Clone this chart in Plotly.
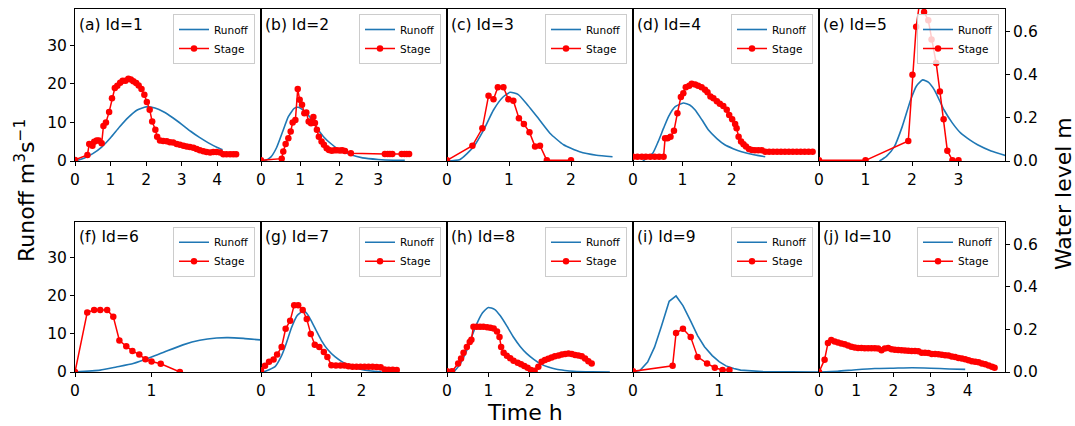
import plotly.graph_objects as go

# ---------------- event data: time (h), runoff (m3/s), stage (m) ----------------
# Id=1
t_run_1 = [0, 0.25, 0.5, 0.75, 1.0, 1.25, 1.5, 1.75, 2.0, 2.25, 2.5, 2.75, 3.0, 3.25, 3.5, 3.75, 4.0, 4.15]
q_run_1 = [0, 0.7, 1.9, 3.6, 6.0, 8.8, 11.3, 13.2, 14.0, 13.7, 12.7, 11.2, 9.5, 7.7, 6.1, 4.7, 3.5, 2.9]
t_stg_1 = [0, 0.35, 0.40, 0.49, 0.54, 0.61, 0.67, 0.75, 0.80, 0.87, 0.96, 1.04, 1.12, 1.19, 1.27, 1.34,
           1.42, 1.50, 1.57, 1.64, 1.72, 1.79, 1.87, 1.95, 2.02, 2.10, 2.17, 2.26, 2.31, 2.39, 2.48, 2.58,
           2.67, 2.76, 2.86, 2.95, 3.05, 3.14, 3.23, 3.33, 3.42, 3.51, 3.61, 3.70, 3.80, 3.89, 3.98, 4.08,
           4.17, 4.26, 4.36, 4.45, 4.53]
h_stg_1 = [0.005, 0.028, 0.079, 0.071, 0.089, 0.095, 0.095, 0.082, 0.163, 0.179, 0.228, 0.292, 0.339,
           0.350, 0.364, 0.373, 0.373, 0.382, 0.378, 0.370, 0.362, 0.351, 0.334, 0.308, 0.274, 0.238,
           0.183, 0.145, 0.113, 0.095, 0.093, 0.092, 0.087, 0.086, 0.079, 0.076, 0.071, 0.067, 0.065,
           0.061, 0.056, 0.050, 0.045, 0.042, 0.040, 0.042, 0.042, 0.039, 0.031, 0.031, 0.031, 0.031, 0.031]

# Id=2
t_run_2 = [0, 0.1, 0.25, 0.4, 0.55, 0.7, 0.85, 0.95, 1.1, 1.25, 1.4, 1.6, 1.8, 2.0, 2.3, 2.6, 3.0, 3.4, 3.68]
q_run_2 = [0, 0.1, 1.0, 3.5, 7.5, 11.5, 13.6, 13.9, 13.0, 11.4, 9.0, 6.3, 4.4, 2.9, 1.6, 0.8, 0.4, 0.2, 0.15]
t_stg_2 = [0, 0.53, 0.57, 0.63, 0.70, 0.76, 0.81, 0.88, 0.94, 0.99, 1.05, 1.11, 1.16, 1.22, 1.28, 1.34,
           1.38, 1.43, 1.48, 1.55, 1.61, 1.68, 1.74, 1.81, 1.88, 1.94, 2.02, 2.08, 2.15, 2.30, 3.17, 3.24,
           3.30, 3.36, 3.60, 3.67, 3.73, 3.79]
h_stg_2 = [0.003, 0.011, 0.044, 0.079, 0.106, 0.137, 0.179, 0.190, 0.334, 0.284, 0.261, 0.222, 0.225,
           0.183, 0.175, 0.204, 0.176, 0.145, 0.113, 0.090, 0.075, 0.059, 0.051, 0.048, 0.050, 0.050,
           0.049, 0.050, 0.046, 0.036, 0.033, 0.033, 0.033, 0.033, 0.033, 0.033, 0.033, 0.033]

# Id=3
t_run_3 = [0, 0.21, 0.43, 0.59, 0.75, 0.9, 1.02, 1.15, 1.3, 1.45, 1.66, 1.88, 2.14, 2.41, 2.67]
q_run_3 = [0, 0.4, 3.7, 8.0, 13.2, 16.5, 17.8, 17.2, 14.5, 11.5, 7.2, 4.2, 2.4, 1.5, 1.1]
t_stg_3 = [0, 0.41, 0.57, 0.67, 0.75, 0.82, 0.91, 0.99, 1.07, 1.16, 1.24, 1.33, 1.42, 1.50, 1.61, 2.0]
h_stg_3 = [0.003, 0.071, 0.152, 0.303, 0.287, 0.343, 0.343, 0.287, 0.280, 0.199, 0.172, 0.134, 0.067,
           0.071, 0.003, 0.003]

# Id=4
t_run_4 = [0.2, 0.4, 0.51, 0.62, 0.72, 0.85, 1.02, 1.15, 1.26, 1.4, 1.53, 1.7, 1.86, 2.03, 2.2, 2.45, 2.68]
q_run_4 = [0, 2.0, 5.0, 8.5, 11.5, 14.0, 15.0, 14.5, 13.2, 10.6, 8.0, 5.8, 4.2, 3.2, 2.4, 1.6, 1.1]
t_stg_4 = [0, 0.09, 0.18, 0.26, 0.35, 0.44, 0.53, 0.62, 0.65, 0.70, 0.76, 0.83, 0.90, 0.97, 1.02, 1.07,
           1.14, 1.19, 1.26, 1.32, 1.39, 1.46, 1.51, 1.57, 1.63, 1.70, 1.76, 1.83, 1.90, 1.95, 2.01, 2.07,
           2.10, 2.14, 2.19, 2.24, 2.29, 2.35, 2.41, 2.47, 2.54, 2.61, 2.68, 2.76, 2.84, 2.92, 3.00, 3.08,
           3.16, 3.24, 3.32, 3.40, 3.48, 3.56, 3.64]
h_stg_4 = [0.020, 0.020, 0.020, 0.020, 0.020, 0.020, 0.020, 0.020, 0.106, 0.106, 0.113, 0.140, 0.222,
           0.297, 0.315, 0.343, 0.350, 0.359, 0.355, 0.350, 0.343, 0.331, 0.319, 0.300, 0.292, 0.277,
           0.266, 0.256, 0.238, 0.214, 0.194, 0.172, 0.152, 0.113, 0.090, 0.078, 0.067, 0.056, 0.051,
           0.050, 0.050, 0.050, 0.043, 0.043, 0.043, 0.043, 0.043, 0.043, 0.043, 0.043, 0.043, 0.043,
           0.043, 0.043, 0.043]

# Id=5
t_run_5 = [1.3, 1.45, 1.62, 1.79, 1.97, 2.1, 2.23, 2.35, 2.48, 2.69, 2.87, 3.05, 3.25, 3.41, 3.7, 4.02]
q_run_5 = [0, 1.2, 3.7, 8.9, 15.8, 19.5, 21.0, 20.4, 18.4, 13.2, 9.8, 7.2, 5.4, 4.2, 2.6, 1.4]
t_stg_5 = [0, 1.0, 1.92, 2.01, 2.09, 2.18, 2.26, 2.35, 2.42, 2.52, 2.60, 2.68, 2.76, 2.87, 3.0]
h_stg_5 = [0.003, 0.003, 0.093, 0.401, 0.623, 0.76, 0.692, 0.654, 0.564, 0.455, 0.323, 0.194, 0.048,
           0.003, 0.003]

# Id=6
t_run_6 = [0, 0.33, 0.54, 0.76, 1.0, 1.2, 1.41, 1.63, 1.85, 2.0, 2.2, 2.42]
q_run_6 = [0, 0.5, 1.3, 2.2, 3.9, 5.5, 7.1, 8.3, 8.9, 9.0, 8.8, 8.4]
t_stg_6 = [0, 0.16, 0.25, 0.33, 0.42, 0.50, 0.58, 0.67, 0.75, 0.84, 0.92, 1.00, 1.12, 1.37]
h_stg_6 = [0.0, 0.280, 0.291, 0.291, 0.291, 0.260, 0.148, 0.121, 0.099, 0.082, 0.060, 0.049, 0.039, 0.0]

# Id=7
t_run_7 = [0.05, 0.28, 0.4, 0.48, 0.61, 0.72, 0.84, 0.92, 1.0, 1.1, 1.2, 1.33, 1.47, 1.6, 1.74, 1.9, 2.07, 2.25, 2.4]
q_run_7 = [0, 1.4, 4.0, 6.6, 11.7, 14.8, 16.0, 15.2, 13.4, 10.8, 8.3, 5.8, 4.0, 2.8, 1.8, 1.0, 0.5, 0.2, 0.1]
t_stg_7 = [0, 0.08, 0.16, 0.25, 0.32, 0.41, 0.49, 0.58, 0.66, 0.74, 0.83, 0.91, 0.99, 1.07, 1.16, 1.25,
           1.32, 1.40, 1.49, 1.58, 1.66, 1.74, 1.82, 1.90, 1.98, 2.06, 2.14, 2.22, 2.30, 2.38, 2.46, 2.54,
           2.62, 2.70]
h_stg_7 = [0.008, 0.029, 0.048, 0.059, 0.082, 0.118, 0.203, 0.241, 0.314, 0.314, 0.291, 0.249, 0.179,
           0.128, 0.118, 0.094, 0.071, 0.032, 0.031, 0.031, 0.031, 0.027, 0.025, 0.025, 0.025, 0.025,
           0.025, 0.025, 0.024, 0.022, 0.012, 0.010, 0.010, 0.009]

# Id=8
t_run_8 = [0.16, 0.3, 0.48, 0.6, 0.72, 0.86, 1.0, 1.15, 1.29, 1.45, 1.61, 1.77, 1.93, 2.1, 2.25, 2.45,
           2.65, 2.85, 3.06, 3.5, 3.94]
q_run_8 = [0, 1.8, 5.7, 9.3, 12.6, 15.5, 16.9, 16.4, 14.7, 12.0, 9.1, 6.7, 4.8, 3.3, 2.2, 1.3, 0.7, 0.4,
           0.2, 0.05, 0]
t_stg_8 = [0, 0.12, 0.27, 0.34, 0.40, 0.48, 0.55, 0.59, 0.64, 0.72, 0.80, 0.88, 0.97, 1.05, 1.13, 1.21,
           1.27, 1.31, 1.37, 1.45, 1.53, 1.61, 1.71, 1.79, 1.87, 1.95, 2.03, 2.12, 2.21, 2.29, 2.37, 2.45,
           2.53, 2.61, 2.70, 2.78, 2.86, 2.94, 3.02, 3.10, 3.18, 3.26, 3.34, 3.42, 3.50]
h_stg_8 = [0.003, 0.003, 0.040, 0.063, 0.090, 0.118, 0.141, 0.152, 0.213, 0.213, 0.213, 0.213, 0.210,
           0.208, 0.204, 0.190, 0.164, 0.118, 0.090, 0.076, 0.065, 0.053, 0.043, 0.036, 0.028, 0.020,
           0.009, 0.006, 0.025, 0.048, 0.056, 0.062, 0.068, 0.074, 0.077, 0.082, 0.085, 0.087, 0.084,
           0.080, 0.077, 0.074, 0.063, 0.051, 0.040]

# Id=9
t_run_9 = [0, 0.08, 0.17, 0.25, 0.33, 0.42, 0.5, 0.58, 0.67, 0.75, 0.83, 0.92, 1.0, 1.08, 1.17, 1.25, 1.5, 1.75, 2.16]
q_run_9 = [0, 0.4, 2.6, 6.5, 12.0, 18.5, 19.9, 17.4, 13.3, 9.5, 6.6, 4.3, 2.7, 1.6, 0.9, 0.5, 0.1, 0.02, 0]
t_stg_9 = [0, 0.46, 0.50, 0.58, 0.67, 0.75, 0.86, 0.95, 1.04, 1.12]
h_stg_9 = [0.003, 0.029, 0.183, 0.203, 0.164, 0.071, 0.040, 0.020, 0.009, 0.009]

# Id=10
t_run_10 = [0, 0.5, 1.0, 1.5, 2.0, 2.5, 3.0, 3.5, 3.93]
q_run_10 = [0, 0.2, 0.6, 0.9, 1.0, 1.1, 1.0, 0.8, 0.7]
t_stg_10 = [0, 0.15, 0.24, 0.33, 0.42, 0.51, 0.60, 0.69, 0.78, 0.87, 0.96, 1.05, 1.14, 1.23, 1.32, 1.41,
            1.50, 1.59, 1.68, 1.77, 1.86, 1.95, 2.04, 2.13, 2.22, 2.31, 2.40, 2.49, 2.58, 2.67, 2.76, 2.85,
            2.94, 3.03, 3.12, 3.21, 3.30, 3.39, 3.48, 3.57, 3.66, 3.75, 3.84, 3.93, 4.02, 4.11, 4.20, 4.29,
            4.38, 4.47, 4.56, 4.65, 4.72]
h_stg_10 = [0, 0.058, 0.136, 0.150, 0.143, 0.138, 0.134, 0.130, 0.125, 0.119, 0.115, 0.113, 0.113, 0.112,
            0.112, 0.112, 0.112, 0.110, 0.102, 0.110, 0.113, 0.107, 0.104, 0.103, 0.102, 0.101, 0.100,
            0.099, 0.099, 0.097, 0.091, 0.090, 0.089, 0.085, 0.084, 0.083, 0.081, 0.079, 0.078, 0.073,
            0.070, 0.066, 0.064, 0.060, 0.055, 0.051, 0.048, 0.046, 0.040, 0.036, 0.030, 0.025, 0.020]

panel_titles = ["(a) Id=1", "(b) Id=2", "(c) Id=3", "(d) Id=4", "(e) Id=5",
                "(f) Id=6", "(g) Id=7", "(h) Id=8", "(i) Id=9", "(j) Id=10"]
x_ticks = [[0, 1, 2, 3, 4], [0, 1, 2, 3], [0, 1, 2], [0, 1, 2], [0, 1, 2, 3],
           [0, 1], [0, 1, 2], [0, 1, 2, 3], [0, 1], [0, 1, 2, 3, 4]]
x_max = [5.23, 4.76, 3.0, 3.77, 4.0, 2.43, 3.7, 4.5, 2.16, 5.0]
runoff_ticks = [0, 10, 20, 30]
stage_ticks = [0.0, 0.2, 0.4, 0.6]
runoff_max = 39.35
stage_max = 0.706

events = [
    (t_run_1, q_run_1, t_stg_1, h_stg_1), (t_run_2, q_run_2, t_stg_2, h_stg_2),
    (t_run_3, q_run_3, t_stg_3, h_stg_3), (t_run_4, q_run_4, t_stg_4, h_stg_4),
    (t_run_5, q_run_5, t_stg_5, h_stg_5), (t_run_6, q_run_6, t_stg_6, h_stg_6),
    (t_run_7, q_run_7, t_stg_7, h_stg_7), (t_run_8, q_run_8, t_stg_8, h_stg_8),
    (t_run_9, q_run_9, t_stg_9, h_stg_9), (t_run_10, q_run_10, t_stg_10, h_stg_10),
]

FONT = "DejaVu Sans"
BLUE = "#1f77b4"
RED = "#ff0000"
W, H = 1075, 426
ML, MR, MT, MB = 75, 70, 9, 54
PW, PH = W - ML - MR, H - MT - MB
row_domains = [[(372 - 161) / PH, 1.0], [0.0, (372 - 221.7) / PH]]

fig = go.Figure()
layout = dict(
    width=W, height=H,
    margin=dict(l=ML, r=MR, t=MT, b=MB, pad=0),
    paper_bgcolor="white", plot_bgcolor="white",
    font=dict(family=FONT, size=15, color="black"),
    showlegend=True,
)
annotations = []

for i, (tr, qr, ts, hs) in enumerate(events):
    k = i + 1
    row, col = divmod(i, 5)
    xname = "x" if k == 1 else f"x{k}"
    yl = 2 * k - 1
    yr = 2 * k
    ylname = "y" if yl == 1 else f"y{yl}"
    yrname = f"y{yr}"
    leg = "legend" if k == 1 else f"legend{k}"

    fig.add_trace(go.Scatter(
        x=tr, y=qr, name="Runoff", mode="lines",
        line=dict(color=BLUE, width=1.6, shape="linear" if k == 9 else "spline", smoothing=0.5),
        xaxis=xname, yaxis=ylname, legend=leg, showlegend=True,
    ))
    fig.add_trace(go.Scatter(
        x=ts, y=hs, name="Stage", mode="lines+markers",
        line=dict(color=RED, width=1.5),
        marker=dict(color=RED, size=6.5),
        xaxis=xname, yaxis=yrname, legend=leg, showlegend=True,
    ))

    dom_x = [col / 5, (col + 1) / 5]
    dom_y = row_domains[row]
    layout["xaxis" if k == 1 else f"xaxis{k}"] = dict(
        domain=dom_x, anchor=ylname, range=[0, x_max[i]],
        tickvals=x_ticks[i], ticks="outside", ticklen=4, tickwidth=1, tickcolor="black",
        showline=True, linecolor="black", linewidth=1, mirror=True,
        showgrid=False, zeroline=False, tickfont=dict(size=15.5, family=FONT),
    )
    layout["yaxis" if yl == 1 else f"yaxis{yl}"] = dict(
        domain=dom_y, anchor=xname, range=[0, runoff_max],
        tickvals=runoff_ticks, ticks="outside" if col == 0 else "",
        showticklabels=(col == 0), ticklen=4, tickwidth=1, tickcolor="black",
        showline=True, linecolor="black", linewidth=1, mirror=True,
        showgrid=False, zeroline=False, tickfont=dict(size=15.5, family=FONT),
    )
    layout[f"yaxis{yr}"] = dict(
        overlaying=ylname, side="right", anchor=xname, range=[0, stage_max],
        tickvals=stage_ticks, tickformat=".1f",
        ticks="outside" if col == 4 else "", showticklabels=(col == 4),
        ticklen=4, tickwidth=1, tickcolor="black",
        showline=False, showgrid=False, zeroline=False, tickfont=dict(size=15.5, family=FONT),
    )
    layout[leg] = dict(
        x=dom_x[1] - 6 / PW, xanchor="right",
        y=dom_y[1] - 5 / PH, yanchor="top",
        bgcolor="rgba(255,255,255,0.8)", bordercolor="#cccccc", borderwidth=1,
        font=dict(size=10.5, family=FONT), itemwidth=30, tracegroupgap=0,
    )
    annotations.append(dict(
        text=panel_titles[i], xref=f"{xname} domain", yref=f"{ylname} domain",
        x=0.012, y=0.895, xanchor="left", yanchor="middle", showarrow=False,
        font=dict(size=15.5, family=FONT, color="black"),
    ))

annotations += [
    dict(text="Time h", xref="paper", yref="paper", x=(525 - ML) / PW, y=(372 - 413) / PH,
         xanchor="center", yanchor="middle", showarrow=False, font=dict(size=22, family=FONT)),
    dict(text="Runoff m<sup>3</sup>s<sup>\u22121</sup>", xref="paper", yref="paper",
         x=(25 - ML) / PW, y=(372 - 191) / PH, textangle=-90,
         xanchor="center", yanchor="middle", showarrow=False, font=dict(size=22, family=FONT)),
    dict(text="Water level m", xref="paper", yref="paper", x=(1064 - ML) / PW, y=(372 - 194) / PH,
         textangle=-90, xanchor="center", yanchor="middle", showarrow=False,
         font=dict(size=22, family=FONT)),
]
layout["annotations"] = annotations
fig.update_layout(**layout)
fig.write_html("out.html")
